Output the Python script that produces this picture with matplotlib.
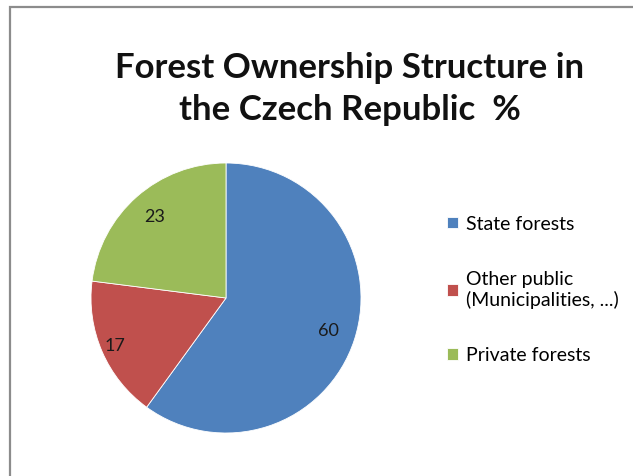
import matplotlib
matplotlib.use('Agg')
import matplotlib.pyplot as plt
from matplotlib.patches import Rectangle
import numpy as np

labels = ['State forests', 'Other public\n(Municipalities, ...)', 'Private forests']
values = [60, 17, 23]
colors = ['#4F81BD', '#C0504D', '#9BBB59']
label_dist = [0.8, 0.9, 0.8]

plt.rcParams['font.family'] = ['Lato', 'DejaVu Sans']

fig = plt.figure(figsize=(6.33, 4.76), dpi=100)
fig.patch.set_facecolor('white')

# frame like the chart area border
fig.patches.append(Rectangle((10 / 633, -0.1), 1.2, 1 - 7 / 476 + 0.1,
                             transform=fig.transFigure, fill=False,
                             edgecolor='#8c8c8c', linewidth=1.6))

fig.text(0.553, 1 - 89 / 476, 'Forest Ownership Structure in\nthe Czech Republic  %',
         ha='center', va='center', fontsize=25, fontweight='bold',
         linespacing=1.38, color='#111111')

ax = fig.add_axes([(226 - 135) / 633, (476 - 298 - 135) / 476, 270 / 633, 270 / 476])
wedges, _ = ax.pie(values, colors=colors, startangle=90, counterclock=False,
                   wedgeprops=dict(edgecolor='white', linewidth=0.6))
ax.set_xlim(-1, 1)
ax.set_ylim(-1, 1)
ax.set_aspect('equal')

for w, v, d in zip(wedges, values, label_dist):
    ang = np.deg2rad((w.theta1 + w.theta2) / 2)
    ax.text(d * np.cos(ang), d * np.sin(ang), str(v), ha='center', va='center',
            fontsize=13, color='#1a1a1a')

leg = fig.legend(wedges, labels, loc='upper left', bbox_to_anchor=(430 / 633, 1 - 198 / 476),
                 frameon=False, fontsize=14, handlelength=0.55, handleheight=0.55,
                 handletextpad=0.4, labelspacing=1.97)

fig.savefig('out.png', dpi=100)
